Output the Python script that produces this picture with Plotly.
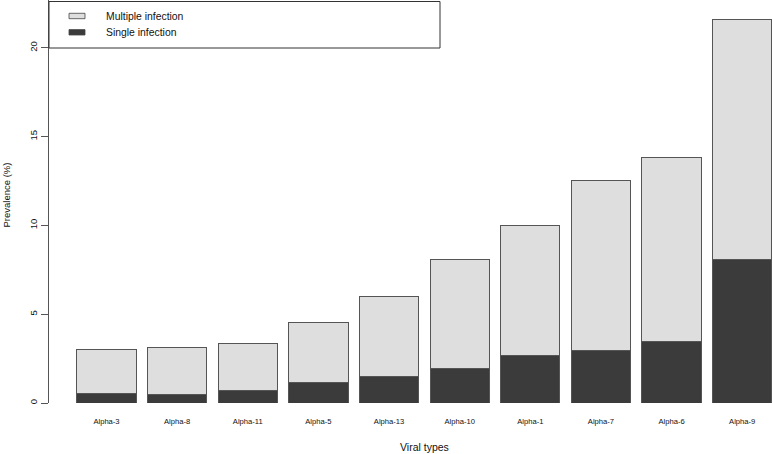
import plotly.graph_objects as go

categories = ["Alpha-3", "Alpha-8", "Alpha-11", "Alpha-5", "Alpha-13",
              "Alpha-10", "Alpha-1", "Alpha-7", "Alpha-6", "Alpha-9"]
single_infection = [0.54, 0.50, 0.71, 1.18, 1.47, 1.92, 2.69, 2.98, 3.44, 8.07]
total_prevalence = [3.00, 3.12, 3.36, 4.52, 5.99, 8.10, 10.00, 12.52, 13.84, 21.63]
multiple_infection = [round(t - s, 2) for t, s in zip(total_prevalence, single_infection)]
y_ticks = [0, 5, 10, 15, 20]

LIGHT = "#DEDEDE"
DARK = "#3B3B3B"
EDGE = "#555555"
TXT = "#111111"
FONT = "Liberation Sans, Arial, sans-serif"

W, H = 773, 454
L, R, T, B = 49, 0, 0, 51
pw, ph = W - L - R, H - T - B

def px(xp):
    return (xp - L) / pw

def py(yp):
    return (H - B - yp) / ph

fig = go.Figure()
fig.add_trace(go.Bar(x=categories, y=single_infection, name="Single infection",
                     marker=dict(color=DARK, line=dict(color=EDGE, width=1)),
                     width=0.84))
fig.add_trace(go.Bar(x=categories, y=multiple_infection, name="Multiple infection",
                     marker=dict(color=LIGHT, line=dict(color=EDGE, width=1)),
                     width=0.84))

fig.update_layout(
    barmode="stack",
    width=W, height=H,
    margin=dict(l=L, r=R, t=T, b=B, autoexpand=False),
    plot_bgcolor="white", paper_bgcolor="white",
    showlegend=False,
    font=dict(family=FONT, color=TXT),
    xaxis=dict(type="category", range=[-0.814, 9.436], showline=False,
               showgrid=False, zeroline=False, ticks="outside", ticklen=11,
               automargin=False,
               tickcolor="rgba(0,0,0,0)", tickfont=dict(size=7.6, family=FONT, color=TXT)),
    yaxis=dict(range=[0, 22.70], tickvals=y_ticks, showgrid=False, zeroline=False,
               showline=True, linecolor=EDGE, linewidth=1, ticks="outside",
               automargin=False,
               ticklen=7, tickcolor=EDGE, tickangle=-90,
               tickfont=dict(size=9.5, family=FONT, color=TXT)),
)

# axis titles
fig.add_annotation(text="Viral types", xref="paper", yref="paper",
                   x=px(424.5), y=py(446.5), xanchor="center", yanchor="middle",
                   showarrow=False, font=dict(size=10.5, family=FONT, color=TXT))
fig.add_annotation(text="Prevalence (%)", xref="paper", yref="paper",
                   x=px(5.5), y=py(195), xanchor="center", yanchor="middle",
                   textangle=-90, showarrow=False, font=dict(size=9.5, family=FONT, color=TXT))

# legend box
fig.add_shape(type="rect", xref="paper", yref="paper",
              x0=px(49), x1=px(440), y0=py(48), y1=py(1.5),
              line=dict(color="#333333", width=1), fillcolor="white", layer="above")
legend_items = [("Multiple infection", LIGHT, 16.0), ("Single infection", DARK, 32.3)]
for label, col, yc in legend_items:
    fig.add_shape(type="rect", xref="paper", yref="paper",
                  x0=px(69), x1=px(85), y0=py(yc + 2.7), y1=py(yc - 2.7),
                  line=dict(color="#444444", width=0.8), fillcolor=col, layer="above")
    fig.add_annotation(text=label, xref="paper", yref="paper",
                       x=px(103.5), y=py(yc), xanchor="left", yanchor="middle",
                       showarrow=False, font=dict(size=10.4, family=FONT, color=TXT))

fig.write_html("out.html", config={"displayModeBar": False},
               post_script="document.body.style.margin='0';document.body.style.padding='0';")
